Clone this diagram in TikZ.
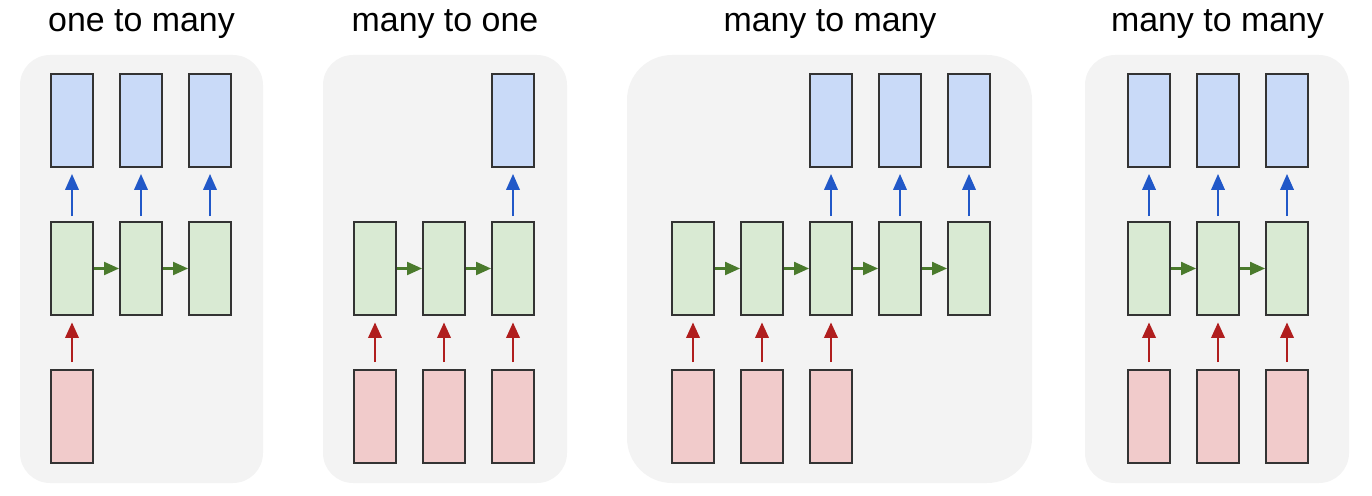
\documentclass[tikz,border=0pt]{standalone}
\usepackage{fontspec}
\setmainfont{Liberation Sans}
\usetikzlibrary{arrows.meta}

\definecolor{panelgray}{HTML}{F3F3F3}
\definecolor{cellline}{HTML}{333333}
\definecolor{outblue}{HTML}{C9DAF8}
\definecolor{hidgreen}{HTML}{D9EAD3}
\definecolor{inred}{HTML}{F1CBCB}
\definecolor{bluearr}{HTML}{2158C8}
\definecolor{redarr}{HTML}{B01E1E}
\definecolor{greenarr}{HTML}{4A7A2C}

\begin{document}
\begin{tikzpicture}[x=0.02cm, y=-0.02cm,
  panel/.style={fill=panelgray, rounded corners=0.6cm},
  cell/.style={draw=cellline, line width=1.1pt, inner sep=0pt, minimum width=0.84cm, minimum height=1.86cm},
  outbox/.style={cell, fill=outblue},
  hidbox/.style={cell, fill=hidgreen},
  inbox/.style={cell, fill=inred},
  outarrow/.style={bluearr, line width=1.2pt, -{Triangle[length=0.32cm, width=0.27cm]}, shorten <=0.1cm, shorten >=0.12cm},
  inarrow/.style={redarr, line width=1.2pt, -{Triangle[length=0.31cm, width=0.27cm]}, shorten <=0.14cm, shorten >=0.13cm},
  recarrow/.style={greenarr, line width=1.2pt, -{Triangle[length=0.3cm, width=0.26cm]}},
  title/.style={anchor=base, font=\fontsize{19.3}{23}\selectfont}]
\useasboundingbox (0,0) rectangle (1372,496);

% one to many
\fill[panel] (20,55) rectangle (263,483);
\node[title] (A-t) at (141.5,32) {one to many};
\foreach \i/\x in {1/72,2/141,3/210} {
  \node[outbox] (A-y\i) at (\x,120.5) {};
  \node[hidbox] (A-h\i) at (\x,268.5) {};
  \draw[outarrow] (A-h\i) -- (A-y\i);
}
\node[inbox] (A-x1) at (72,416.5) {};
\draw[inarrow] (A-x1) -- (A-h1);
\draw[recarrow] (A-h1) -- (A-h2);
\draw[recarrow] (A-h2) -- (A-h3);

% many to one
\fill[panel] (323,55) rectangle (567,483);
\node[title] (B-t) at (445,32) {many to one};
\foreach \i/\x in {1/375,2/444,3/513} {
  \node[hidbox] (B-h\i) at (\x,268.5) {};
  \node[inbox] (B-x\i) at (\x,416.5) {};
  \draw[inarrow] (B-x\i) -- (B-h\i);
}
\node[outbox] (B-y3) at (513,120.5) {};
\draw[outarrow] (B-h3) -- (B-y3);
\draw[recarrow] (B-h1) -- (B-h2);
\draw[recarrow] (B-h2) -- (B-h3);

% many to many, delayed
\fill[panel, rounded corners=0.9cm] (627,55) rectangle (1032,483);
\node[title] (C-t) at (830,32) {many to many};
\foreach \i/\x in {1/693,2/762,3/831,4/900,5/969} {
  \node[hidbox] (C-h\i) at (\x,268.5) {};
}
\foreach \i in {1,2,3} {
  \node[inbox] (C-x\i) at (C-h\i |- 0,416.5) {};
  \draw[inarrow] (C-x\i) -- (C-h\i);
}
\foreach \i in {3,4,5} {
  \node[outbox] (C-y\i) at (C-h\i |- 0,120.5) {};
  \draw[outarrow] (C-h\i) -- (C-y\i);
}
\draw[recarrow] (C-h1) -- (C-h2);
\draw[recarrow] (C-h2) -- (C-h3);
\draw[recarrow] (C-h3) -- (C-h4);
\draw[recarrow] (C-h4) -- (C-h5);

% many to many, synced
\fill[panel] (1085,55) rectangle (1349,483);
\node[title] (D-t) at (1217.5,32) {many to many};
\foreach \i/\x in {1/1149,2/1218,3/1287} {
  \node[outbox] (D-y\i) at (\x,120.5) {};
  \node[hidbox] (D-h\i) at (\x,268.5) {};
  \node[inbox] (D-x\i) at (\x,416.5) {};
  \draw[outarrow] (D-h\i) -- (D-y\i);
  \draw[inarrow] (D-x\i) -- (D-h\i);
}
\draw[recarrow] (D-h1) -- (D-h2);
\draw[recarrow] (D-h2) -- (D-h3);
\end{tikzpicture}
\end{document}
